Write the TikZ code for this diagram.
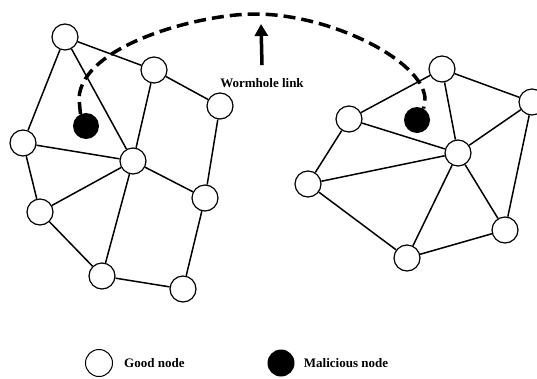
\documentclass[tikz,border=0pt]{standalone}
\usepackage{fontspec}
\setmainfont{Liberation Serif}
\usetikzlibrary{
    arrows.meta,
    positioning
}
\tikzset{
    good/.style={circle, draw, fill=white, line width=1.2pt, minimum size=26pt, inner sep=0pt},
    bad/.style={circle, fill=black, minimum size=26pt, inner sep=0pt},
    link/.style={line width=1.5pt},
    lbl/.style={font=\bfseries\fontsize{13}{15}\selectfont, inner sep=1pt}
}

\begin{document}
\begin{tikzpicture}[x=1pt, y=-1pt]
    \useasboundingbox (0, 0) rectangle (537, 378);

    % left cluster
    \node[good] (a) at (65, 37) {};
    \node[good] (b) at (154, 70) {};
    \node[good] (c) at (220, 106) {};
    \node[good] (d) at (23, 143) {};
    \node[good] (e) at (133, 161) {};
    \node[good] (f) at (40, 212) {};
    \node[good] (g) at (205, 198) {};
    \node[good] (h) at (102, 276) {};
    \node[good] (i) at (183, 289) {};
    \node[bad] (m1) at (86, 126) {};

    % right cluster
    \node[good] (p) at (442, 69) {};
    \node[good] (q) at (532, 102) {};
    \node[good] (r) at (349, 119) {};
    \node[good] (s) at (458, 153) {};
    \node[good] (t) at (308, 184) {};
    \node[good] (u) at (505, 230) {};
    \node[good] (v) at (407, 258) {};
    \node[bad] (m2) at (417, 120) {};

    \draw[link]
    (a) edge (b) (a) edge (d) (a) edge (e)
    (b) edge (c) (b) edge (e)
    (c) edge (g)
    (d) edge (e) (d) edge (f)
    (e) edge (f) (e) edge (g) (e) edge (h)
    (f) edge (h)
    (g) edge (i)
    (h) edge (i);
    \draw[link]
    (r) edge (p) (r) edge (s) (r) edge (t)
    (p) edge (s) (p) edge (q)
    (q) edge (s) (q) edge (u)
    (t) edge (s) (t) edge (v)
    (s) edge (v) (s) edge (u)
    (v) edge (u);

    % wormhole between the two malicious nodes
    \draw[line width=3.5pt, dash pattern=on 12pt off 6pt]
    (m1.115) -- (79, 98)
    .. controls (82, 45) and (200, 14) .. (255, 14)
    .. controls (330, 14) and (422, 60) .. (425, 98)
    -- (m2.60);

    \node[lbl] (wl) at (262, 83) {Wormhole link};
    \coordinate (wtip) at (261, 24);
    \draw[line width=3.5pt, -{Triangle[length=12pt, width=13pt]}]
    ([yshift=12pt]wl.north) -- (wtip);

    % legend
    \node[good, line width=1pt, minimum size=27pt] (kgood) at (99, 363) {};
    \node[lbl, right=10pt of kgood] (tgood) {Good node};
    \node[bad, minimum size=27pt] (kbad) at (281, 363) {};
    \node[lbl, right=8pt of kbad] (tbad) {Malicious node};
\end{tikzpicture}
\end{document}
